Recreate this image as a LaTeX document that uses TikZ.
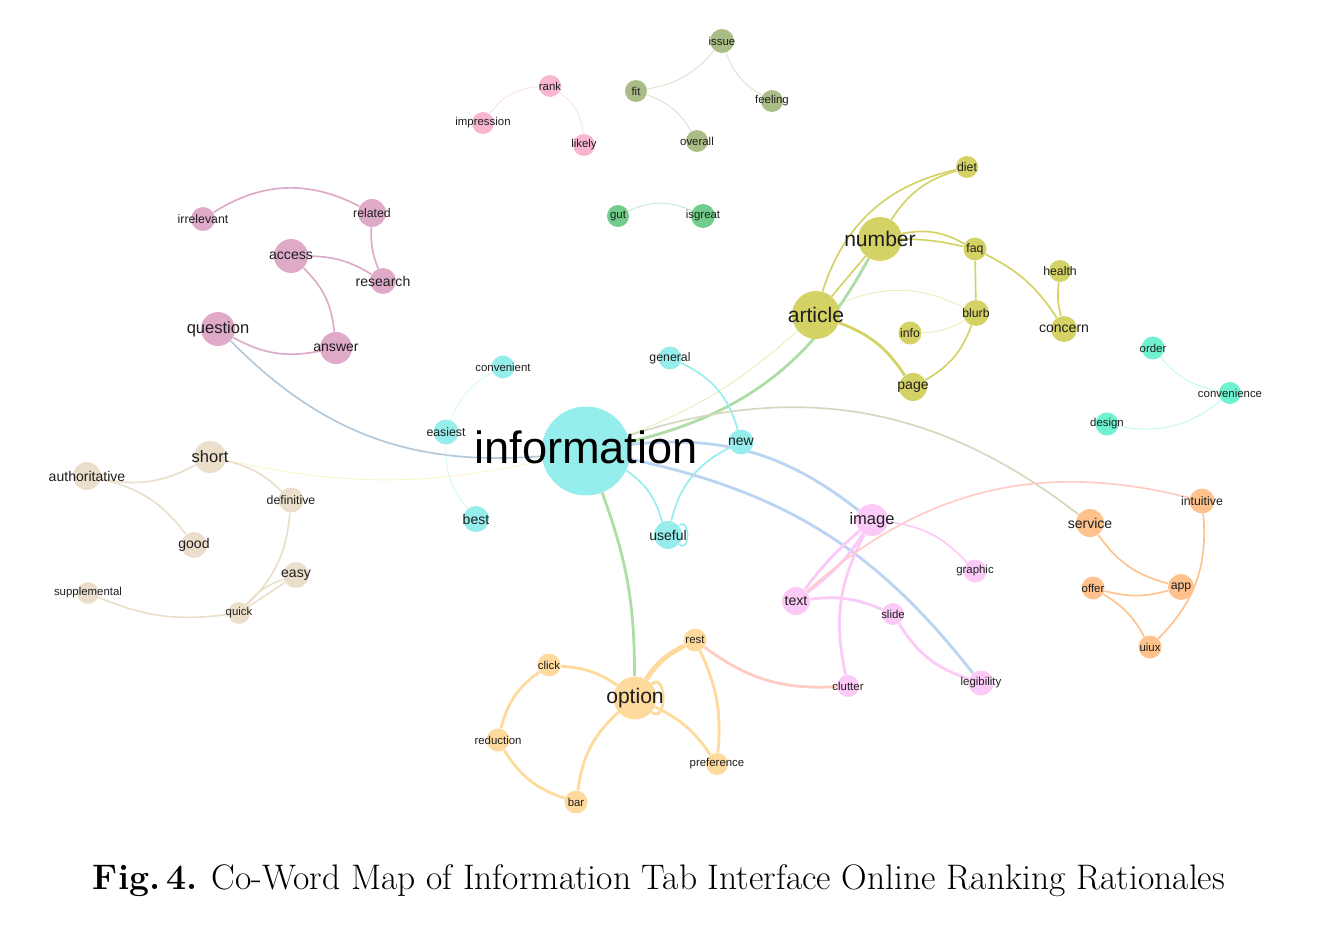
\documentclass[tikz,border=0pt]{standalone}
\usepackage{fontspec}
\newfontfamily\mapfont{Liberation Sans}
\usetikzlibrary{backgrounds}
% cluster colours
\definecolor{infocyan}{HTML}{96EEEC}
\definecolor{artyellow}{HTML}{D5D265}
\definecolor{qrose}{HTML}{DEAAC8}
\definecolor{rankpink}{HTML}{F9B6D1}
\definecolor{fitolive}{HTML}{ABBD86}
\definecolor{gutgreen}{HTML}{72CD8D}
\definecolor{ordteal}{HTML}{6FF2CF}
\definecolor{shortbeige}{HTML}{EBDFCC}
\definecolor{servorange}{HTML}{FFC28D}
\definecolor{optorange}{HTML}{FFDA9D}
\definecolor{imgpink}{HTML}{FBCAF8}
% connector colours
\definecolor{bluelink}{HTML}{BBD4F2}
\definecolor{qlink}{HTML}{B3C8D8}
\definecolor{greenlink}{HTML}{AEDDA6}
\definecolor{salmonlink}{HTML}{FFCCC4}
\definecolor{servlink}{HTML}{D3D8BE}
\definecolor{labeltext}{HTML}{1E1E1E}

\begin{document}
\begin{tikzpicture}[x=0.02cm, y=-0.02cm,
    word/.style={circle, inner sep=0pt, fill=#1},
    rad/.style={minimum size=#1*0.04cm},
    wXS/.style={font=\mapfont\fontsize{6.5}{7}\selectfont, text=labeltext, inner sep=0pt},
    wS/.style={font=\mapfont\fontsize{7}{8}\selectfont, text=labeltext, inner sep=0pt},
    wM/.style={font=\mapfont\fontsize{8}{9}\selectfont, text=labeltext, inner sep=0pt},
    wL/.style={font=\mapfont\fontsize{9.4}{10}\selectfont, text=labeltext, inner sep=0pt},
    wXL/.style={font=\mapfont\fontsize{12}{13}\selectfont, text=labeltext, inner sep=0pt},
    link/.style={draw=#1, line width=0.95pt},
    faint/.style={draw=#1!45, line width=0.5pt},
    heavy/.style={draw=#1, line width=1.6pt}
  ]
  \useasboundingbox (0,0) rectangle (1342,926);

  % question cluster
  \node[word=qrose, rad=12, label={[wS]center:irrelevant}] (irrelevant) at (203,219) {};
  \node[word=qrose, rad=14, label={[wS]center:related}] (related) at (372,213) {};
  \node[word=qrose, rad=17, label={[wM]center:access}] (access) at (291,256) {};
  \node[word=qrose, rad=13, label={[wM]center:research}] (research) at (383,281) {};
  \node[word=qrose, rad=17, label={[wL]center:question}] (question) at (218,329) {};
  \node[word=qrose, rad=16, label={[wM]center:answer}] (answer) at (336,348) {};

  % small clusters at the top
  \node[word=rankpink, rad=11, label={[wXS]center:rank}] (rank) at (550,86) {};
  \node[word=rankpink, rad=11, label={[wXS]center:impression}] (impression) at (483,123) {};
  \node[word=rankpink, rad=11, label={[wXS]center:likely}] (likely) at (584,145) {};
  \node[word=fitolive, rad=12, label={[wXS]center:issue}] (issue) at (722,41) {};
  \node[word=fitolive, rad=11, label={[wXS]center:fit}] (fit) at (636,91) {};
  \node[word=fitolive, rad=11, label={[wXS]center:feeling}] (feeling) at (772,101) {};
  \node[word=fitolive, rad=11, label={[wXS]center:overall}] (overall) at (697,141) {};
  \node[word=gutgreen, rad=11, label={[wXS]center:gut}] (gut) at (618,216) {};
  \node[word=gutgreen, rad=12, label={[wXS]center:isgreat}] (isgreat) at (703,216) {};

  % article cluster
  \node[word=artyellow, rad=22, label={[wXL]center:number}] (number) at (880,239) {};
  \node[word=artyellow, rad=24, label={[wXL]center:article}] (article) at (816,315) {};
  \node[word=artyellow, rad=11, label={[wS]center:diet}] (diet) at (967,167) {};
  \node[word=artyellow, rad=11.5, label={[wS]center:faq}] (faq) at (975,249) {};
  \node[word=artyellow, rad=11, label={[wS]center:health}] (health) at (1060,271) {};
  \node[word=artyellow, rad=13, label={[wM]center:concern}] (concern) at (1064,329) {};
  \node[word=artyellow, rad=13, label={[wS]center:blurb}] (blurb) at (976,313) {};
  \node[word=artyellow, rad=11.5, label={[wS]center:info}] (info) at (910,333) {};
  \node[word=artyellow, rad=14, label={[wM]center:page}] (page) at (913,387) {};

  % order cluster
  \node[word=ordteal, rad=11.5, label={[wXS]center:order}] (order) at (1153,348) {};
  \node[word=ordteal, rad=11, label={[wXS]center:convenience}] (convenience) at (1230,393) {};
  \node[word=ordteal, rad=11.5, label={[wXS]center:design}] (design) at (1107,424) {};

  % information cluster
  \node[word=infocyan, rad=44.5] (information) at (586,451) {};
  \node[word=infocyan, rad=11.5, label={[wXS]center:convenient}] (convenient) at (503,367) {};
  \node[word=infocyan, rad=12.5, label={[wS]center:easiest}] (easiest) at (446,432) {};
  \node[word=infocyan, rad=13, label={[wM]center:best}] (best) at (476,519) {};
  \node[word=infocyan, rad=11.5, label={[wS]center:general}] (general) at (670,358) {};
  \node[word=infocyan, rad=12.5, label={[wM]center:new}] (new) at (741,442) {};
  \node[word=infocyan, rad=14, label={[wM]center:useful}] (useful) at (668,535) {};

  % short cluster
  \node[word=shortbeige, rad=16, label={[wL]center:short}] (short) at (210,457) {};
  \node[word=shortbeige, rad=14, label={[wM]center:authoritative}] (authoritative) at (87,476) {};
  \node[word=shortbeige, rad=12.5, label={[wS]center:definitive}] (definitive) at (291,500) {};
  \node[word=shortbeige, rad=13, label={[wM]center:good}] (good) at (194,545) {};
  \node[word=shortbeige, rad=13, label={[wM]center:easy}] (easy) at (296,575) {};
  \node[word=shortbeige, rad=11, label={[wXS]center:supplemental}] (supplemental) at (88,593) {};
  \node[word=shortbeige, rad=11, label={[wXS]center:quick}] (quick) at (239,613) {};

  % image cluster
  \node[word=imgpink, rad=16, label={[wL]center:image}] (image) at (872,520) {};
  \node[word=imgpink, rad=14, label={[wM]center:text}] (text) at (796,601) {};
  \node[word=imgpink, rad=11, label={[wXS]center:slide}] (slide) at (893,614) {};
  \node[word=imgpink, rad=11.5, label={[wXS]center:graphic}] (graphic) at (975,571) {};
  \node[word=imgpink, rad=11, label={[wXS]center:clutter}] (clutter) at (848,686) {};
  \node[word=imgpink, rad=12.5, label={[wXS]center:legibility}] (legibility) at (981,683) {};

  % service cluster
  \node[word=servorange, rad=14, label={[wM]center:service}] (service) at (1090,523) {};
  \node[word=servorange, rad=12.5, label={[wS]center:intuitive}] (intuitive) at (1202,501) {};
  \node[word=servorange, rad=13, label={[wS]center:app}] (app) at (1181,587) {};
  \node[word=servorange, rad=11.5, label={[wXS]center:offer}] (offer) at (1093,588) {};
  \node[word=servorange, rad=11.5, label={[wXS]center:uiux}] (uiux) at (1150,647) {};

  % option cluster
  \node[word=optorange, rad=21.5, label={[wXL]center:option}] (option) at (635,698) {};
  \node[word=optorange, rad=11.5, label={[wXS]center:click}] (click) at (549,665) {};
  \node[word=optorange, rad=11.5, label={[wXS]center:rest}] (rest) at (695,640) {};
  \node[word=optorange, rad=11.5, label={[wXS]center:reduction}] (reduction) at (498,740) {};
  \node[word=optorange, rad=11, label={[wXS]center:preference}] (preference) at (717,764) {};
  \node[word=optorange, rad=11.5, label={[wXS]center:bar}] (bar) at (576,802) {};

  \node[font=\mapfont\fontsize{25.7}{28}\selectfont, text=black, inner sep=0pt]
    (information-l) at (586,447) {information};

  \begin{scope}[on background layer]
    % question cluster
    \draw[link=qrose] (irrelevant) to[bend left=30] (related);
    \draw[link=qrose] (related) to[bend right=12] (research);
    \draw[link=qrose] (access) to[bend left=15] (research);
    \draw[link=qrose] (access) to[bend left=20] (answer);
    \draw[link=qrose] (question) to[bend right=20] (answer);
    \draw[link=qlink] (question) to[bend right=25] (information);
    % top clusters
    \draw[faint=rankpink] (rank) to[bend right=25] (impression);
    \draw[faint=rankpink] (rank) to[bend left=25] (likely);
    \draw[faint=fitolive] (issue) to[bend left=20] (fit);
    \draw[faint=fitolive] (issue) to[bend right=20] (feeling);
    \draw[faint=fitolive] (fit) to[bend left=20] (overall);
    \draw[faint=gutgreen] (gut) to[bend left=25] (isgreat);
    \draw[faint=ordteal] (order) to[bend right=20] (convenience);
    \draw[faint=ordteal] (convenience) to[bend left=25] (design);
    % article cluster
    \draw[link=artyellow] (number) to[bend left=20] (diet);
    \draw[link=artyellow] (article) to[bend left=30] (diet);
    \draw[link=artyellow] (article) -- (number);
    \draw[link=artyellow] (number) to[bend left=20] (faq);
    \draw[link=artyellow] (number) to[bend left=6] (faq);
    \draw[link=artyellow] (faq) to[bend left=15] (concern);
    \draw[link=artyellow] (health) to[bend right=10] (concern);
    \draw[link=artyellow] (faq) -- (blurb);
    \draw[link=artyellow] (blurb) to[bend left=20] (page);
    \draw[heavy=artyellow] (article) to[bend left=18] (page);
    \draw[faint=artyellow] (info) to[bend right=15] (blurb);
    \draw[faint=artyellow] (article) to[bend left=25] (blurb);
    \draw[heavy=greenlink] (information) to[bend right=24] (number);
    \draw[faint=artyellow] (information) to[bend right=10] (article);
    % information cluster
    \draw[faint=infocyan] (convenient) to[bend right=20] (easiest);
    \draw[faint=infocyan] (easiest) to[bend right=20] (best);
    \draw[link=infocyan] (general) to[bend left=25] (new);
    \draw[link=infocyan] (new) to[bend right=25] (useful);
    \draw[link=infocyan] (information) to[bend left=20] (useful);
    \draw[link=infocyan] (useful) to[out=40, in=-40, min distance=3mm] (useful);
    \draw[heavy=bluelink] (information) to[bend left=22] (image);
    \draw[heavy=bluelink] (information) to[bend left=20] (legibility);
    \draw[link=servlink] (information) to[bend left=28] (service);
    \draw[heavy=greenlink] (information) to[bend left=10] (option);
    % short cluster
    \draw[faint=shortbeige!60!yellow] (short) to[bend right=12] (information);
    \draw[link=shortbeige] (authoritative) to[bend right=20] (short);
    \draw[link=shortbeige] (authoritative) to[bend left=20] (good);
    \draw[link=shortbeige] (short) to[bend left=15] (definitive);
    \draw[link=shortbeige] (definitive) to[bend left=20] (quick);
    \draw[link=shortbeige] (easy) to[bend right=15] (quick);
    \draw[link=shortbeige] (easy) -- (quick);
    \draw[link=shortbeige] (supplemental) to[bend right=15] (quick);
    % image cluster
    \draw[heavy=imgpink] (image) to[bend left=10] (text);
    \draw[heavy=imgpink] (image) to[bend right=6] (text);
    \draw[heavy=imgpink] (image) to[bend right=20] (clutter);
    \draw[heavy=imgpink] (text) to[bend left=15] (slide);
    \draw[heavy=imgpink] (slide) to[bend right=20] (legibility);
    \draw[link=imgpink] (image) to[bend left=20] (graphic);
    \draw[link=salmonlink] (text) to[bend left=28] (intuitive);
    % service cluster
    \draw[link=servorange] (service) to[bend right=20] (app);
    \draw[link=servorange] (intuitive) to[bend left=25] (uiux);
    \draw[link=servorange] (offer) to[bend right=15] (app);
    \draw[link=servorange] (offer) to[bend left=15] (uiux);
    % option cluster
    \draw[heavy=salmonlink] (rest) to[bend right=20] (clutter);
    \draw[heavy=optorange] (click) to[bend left=15] (option);
    \draw[heavy=optorange] (click) to[bend right=20] (reduction);
    \draw[heavy=optorange] (reduction) to[bend right=20] (bar);
    \draw[heavy=optorange] (bar) to[bend left=20] (option);
    \draw[draw=optorange, line width=2.8pt] (option) to[bend left=15] (rest);
    \draw[heavy=optorange] (option) to[bend left=15] (preference);
    \draw[heavy=optorange] (rest) to[bend left=15] (preference);
    \draw[heavy=optorange] (option) to[out=40, in=-40, min distance=4mm] (option);
  \end{scope}

  \node[font=\fontsize{20.2}{24}\selectfont, inner sep=0pt] (caption) at (659,881)
    {\textbf{Fig.\,4.} Co-Word Map of Information Tab Interface Online Ranking Rationales};
\end{tikzpicture}
\end{document}
